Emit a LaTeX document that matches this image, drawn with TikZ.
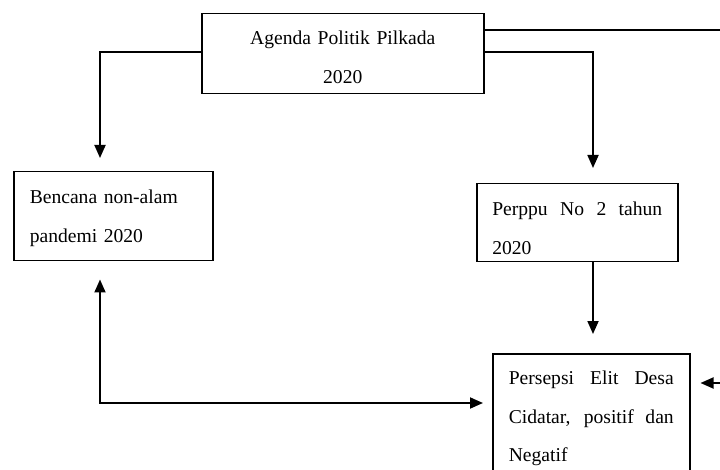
\documentclass[tikz,border=0pt]{standalone}
\usepackage{fontspec}
\setmainfont{Liberation Serif}
\usetikzlibrary{arrows.meta}
\hyphenpenalty=10000
\tolerance=10000
\begin{document}
\begin{tikzpicture}[x=1pt,y=-1pt,
  txt/.style={font=\fontsize{19.6}{38.5}\selectfont},
  box/.style={draw, line width=1.5pt, txt, inner ysep=0pt, anchor=north west},
  conn/.style={line width=1.8pt},
  arr/.style={conn, -{Triangle[length=13pt,width=11pt]}}]
\useasboundingbox (0,0) rectangle (720,470);
\clip (0,0) rectangle (720,470);
% boxes
\node[box, text width=282pt, inner xsep=0pt, align=center, text height=31pt, text depth=49pt]
  (agenda) at (201,13) {Agenda Politik Pilkada\\2020};
\node[box, text width=167pt, inner xsep=16pt, align=left, text height=32pt, text depth=57pt]
  (bencana) at (13,171) {Bencana non-alam\\pandemi 2020};
\node[box, text width=170pt, inner xsep=15.5pt, align=justify, text height=32pt, text depth=46pt]
  (perppu) at (476,183) {Perppu No 2 tahun 2020};
\node[box, text width=165pt, inner xsep=16pt, align=justify, text height=31pt, text depth=110pt]
  (persepsi) at (492,353) {Persepsi Elit Desa Cidatar, positif dan Negatif};
% helper coordinates
\coordinate (ly) at (100,52);
\coordinate (ry) at (593,52);
\coordinate (ty) at (740,30);
\coordinate (lb) at (100,403);
\coordinate (rb) at (740,383);
% connectors
\draw[arr, shorten >=13pt] (agenda.west |- ly) -- (ly) -- (bencana.north -| ly);
\draw[arr, shorten >=15pt] (agenda.east |- ry) -- (ry) -- (perppu.north -| ry);
\draw[arr, shorten >=19pt] (perppu.south -| ry) -- (persepsi.north -| ry);
\draw[conn, {Triangle[length=13pt,width=11pt]}-{Triangle[length=13pt,width=11pt]}, shorten <=18pt, shorten >=9pt]
  (bencana.south -| lb) -- (lb) -- (persepsi.west |- lb);
\draw[arr, shorten >=10pt] (agenda.east |- ty) -- (ty) -- (rb) -- (persepsi.east |- rb);
\end{tikzpicture}
\end{document}
